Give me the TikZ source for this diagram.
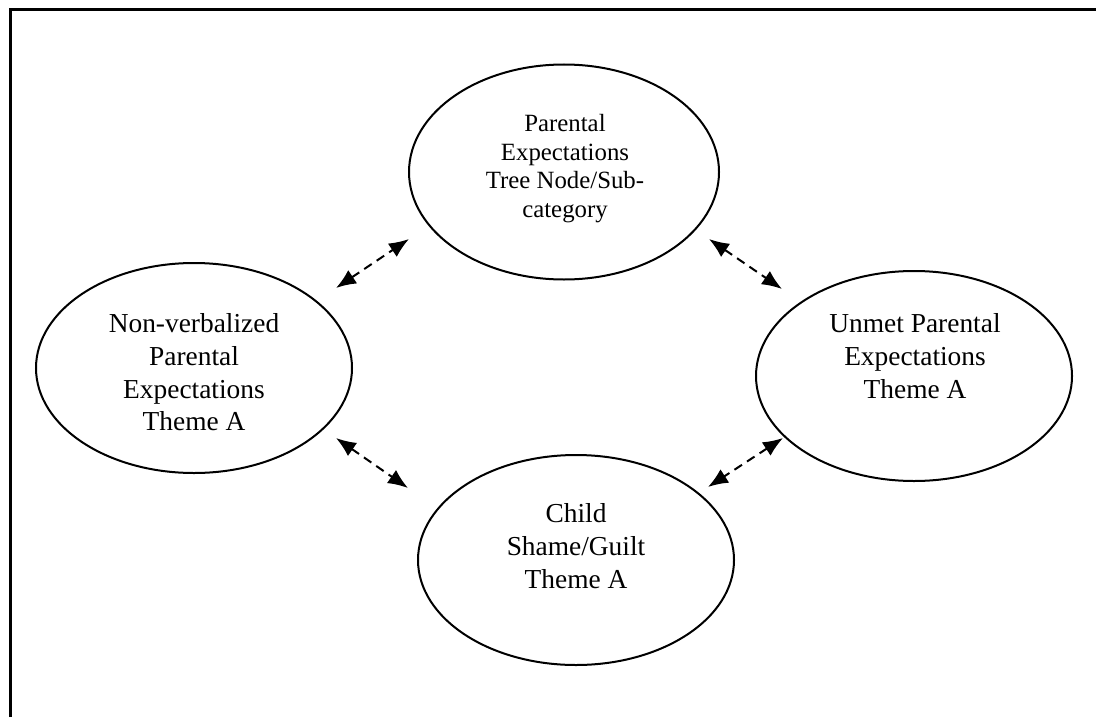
\documentclass[tikz,border=0pt]{standalone}
\usepackage{fontspec}
\setmainfont{Liberation Serif}
\usetikzlibrary{positioning,shapes.geometric,arrows.meta}

\begin{document}
\begin{tikzpicture}[x=0.5pt,y=-0.5pt,
		theme/.style={draw,ellipse,line width=1pt,inner sep=0pt},
		themetext/.style={anchor=north,inner sep=0pt,align=center,font=\fontsize{13.7}{16.4}\selectfont},
		link/.style={dash pattern=on 4.5pt off 3pt,line width=1pt,{Latex[length=10pt,width=8pt]}-{Latex[length=10pt,width=8pt]}}]
		\useasboundingbox (0,0) rectangle (1096,717);
		\draw [line width=1.5pt] (10,717) -- (10,10) -- (1096,10);
		% the four ellipses
		\node [theme,minimum width=155pt,minimum height=107.5pt] (top) at (564,172) {};
		\node [theme,minimum width=158pt,minimum height=105pt] (left) at (194,368) {};
		\node [theme,minimum width=158pt,minimum height=105pt] (right) at (914,376) {};
		\node [theme,minimum width=158pt,minimum height=105pt] (bottom) at (576,560) {};
		\node [themetext,font=\fontsize{12.4}{14.3}\selectfont] (topT) at (565,114) {Parental\\Expectations\\Tree Node/Sub-\\category};
		\node [themetext] (leftT) at (194,313) {Non-verbalized\\Parental\\Expectations\\Theme A};
		\node [themetext] (rightT) at (915,313) {Unmet Parental\\Expectations\\Theme A};
		\node [themetext] (bottomT) at (576,503) {Child\\Shame/Guilt\\Theme A};
		% arrow ends
		\coordinate (a1) at (336,288);
		\coordinate (a2) at (409,239);
		\coordinate (b1) at (709,239);
		\coordinate (b2) at (782,289);
		\coordinate (c1) at (336,438);
		\coordinate (c2) at (408,488);
		\coordinate (d1) at (783,438);
		\coordinate (d2) at (708,487);
		\draw [link] (a1) -- (a2);
		\draw [link] (b1) -- (b2);
		\draw [link] (c1) -- (c2);
		\draw [link] (d1) -- (d2);
\end{tikzpicture}
\end{document}
